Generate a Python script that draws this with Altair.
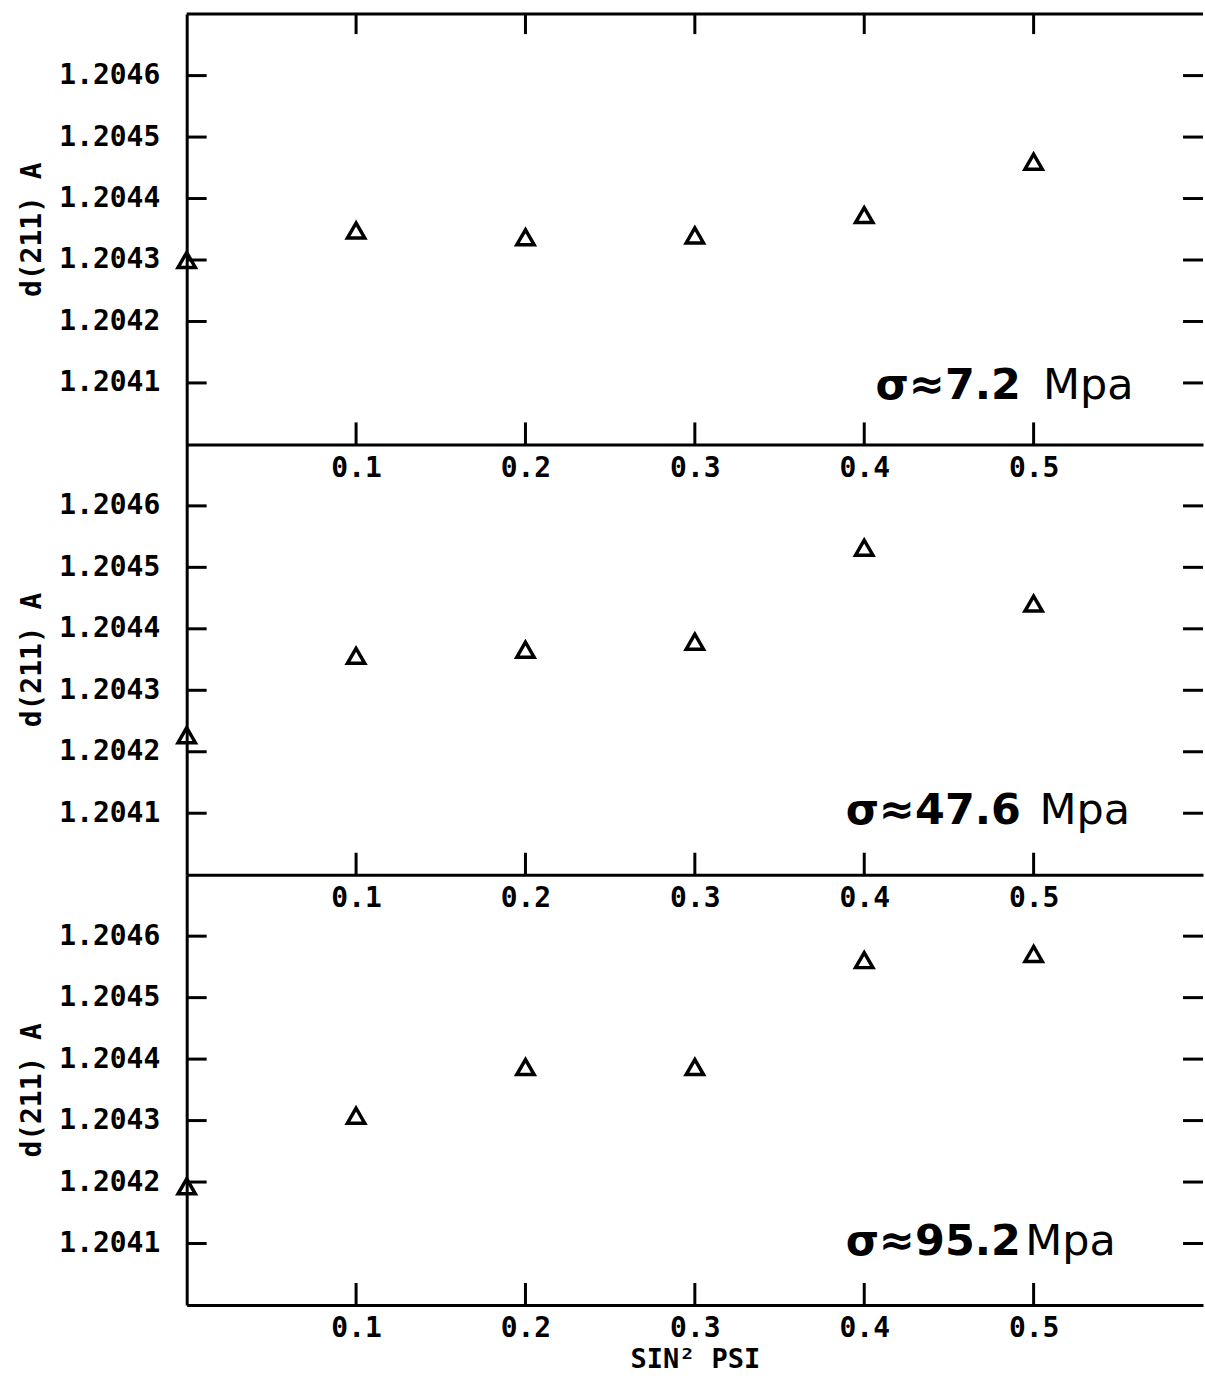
import altair as alt
import pandas as pd

# ---- data ----
x_vals = [0.0, 0.1, 0.2, 0.3, 0.4, 0.5]
d_72 = [1.204300, 1.204348, 1.204337, 1.204340, 1.204373, 1.204460]
d_476 = [1.204227, 1.204356, 1.204366, 1.204379, 1.204532, 1.204441]
d_952 = [1.204193, 1.204308, 1.204387, 1.204387, 1.204561, 1.204571]
series = [d_72, d_476, d_952]

x_ticks = [0.1, 0.2, 0.3, 0.4, 0.5]
y_ticks = [1.2041, 1.2042, 1.2043, 1.2044, 1.2045, 1.2046]

labels_bold = ["σ≈7.2", "σ≈47.6", "σ≈95.2"]
labels_unit = ["Mpa", "Mpa", "Mpa"]
label_x_bold = [0.4925, 0.4925, 0.4925]
label_x_unit = [0.5055, 0.5035, 0.4950]
label_y = [1.204074, 1.204082, 1.204081]

W = 1018
H = 431

xscale = alt.Scale(domain=[0, 0.6], nice=False, zero=False)
yscale = alt.Scale(domain=[1.2040, 1.2047], nice=False, zero=False)

mono = "DejaVu Sans Mono"


def panel(i, is_top, is_bottom):
    xaxis = alt.Axis(
        values=x_ticks, format=".1f", ticks=False, grid=False,
        domain=True, domainWidth=3, domainColor="black",
        labelPadding=10, title=("SIN² PSI" if is_bottom else None),
        titlePadding=4, titleFontSize=27,
    )
    yaxis = alt.Axis(
        values=y_ticks, format=".4f", ticks=False, grid=False,
        domain=True, domainWidth=3, domainColor="black",
        labelPadding=27, title="d(211) A", titlePadding=12,
    )

    def X(f):
        return alt.X(f"{f}:Q", scale=xscale, axis=xaxis)

    def Y(f):
        return alt.Y(f"{f}:Q", scale=yscale, axis=yaxis)

    pts = pd.DataFrame({"x": x_vals, "d": series[i]})
    points = alt.Chart(pts).mark_point(
        shape="triangle-up", filled=False, color="black", strokeWidth=3.5, size=300, opacity=1
    ).encode(x=X("x"), y=Y("d"))

    ydf = pd.DataFrame({"d": y_ticks})
    xdf = pd.DataFrame({"x": x_ticks})
    rule_style = dict(color="black", strokeWidth=3, opacity=1)
    left_ticks = alt.Chart(ydf).mark_rule(**rule_style).encode(
        y=Y("d"), x=alt.value(0), x2=alt.value(20)
    )
    right_ticks = alt.Chart(ydf).mark_rule(**rule_style).encode(
        y=Y("d"), x=alt.value(W - 20), x2=alt.value(W)
    )
    bottom_ticks = alt.Chart(xdf).mark_rule(**rule_style).encode(
        x=X("x"), y=alt.value(H - 22), y2=alt.value(H)
    )
    lab_b = pd.DataFrame({"x": [label_x_bold[i]], "d": [label_y[i]], "t": [labels_bold[i]]})
    lab_u = pd.DataFrame({"x": [label_x_unit[i]], "d": [label_y[i]], "t": [labels_unit[i]]})
    t_bold = alt.Chart(lab_b).mark_text(
        font="DejaVu Sans", fontSize=43, fontWeight="bold", align="right",
        baseline="alphabetic", color="black"
    ).encode(x=X("x"), y=Y("d"), text="t:N")
    t_unit = alt.Chart(lab_u).mark_text(
        font="DejaVu Sans", fontSize=43, fontWeight="normal", align="left",
        baseline="alphabetic", color="black"
    ).encode(x=X("x"), y=Y("d"), text="t:N")
    layers = [points, left_ticks, right_ticks, bottom_ticks, t_bold, t_unit]
    if is_top:
        top_ticks = alt.Chart(xdf).mark_rule(**rule_style).encode(
            x=X("x"), y=alt.value(0), y2=alt.value(20)
        )
        border = alt.Chart(pd.DataFrame({"a": [0]})).mark_rule(color="black", strokeWidth=3).encode(
            x=alt.value(0), x2=alt.value(W), y=alt.value(0)
        )
        layers += [top_ticks, border]
    return alt.layer(*layers).properties(width=W, height=H)


chart = alt.vconcat(
    panel(0, True, False),
    panel(1, False, False),
    panel(2, False, True),
    spacing=0,
    bounds="flush",
).properties(
    padding={"left": 18, "top": 11, "right": 0, "bottom": 5},
    background="white",
).configure_view(
    stroke=None
).configure_axis(
    labelFont=mono, labelFontWeight="bold", labelFontSize=28, labelColor="black",
    titleFont=mono, titleFontWeight="bold", titleFontSize=28, titleColor="black",
)

chart.save("out.html", embed_options={"renderer": "svg", "actions": False})
